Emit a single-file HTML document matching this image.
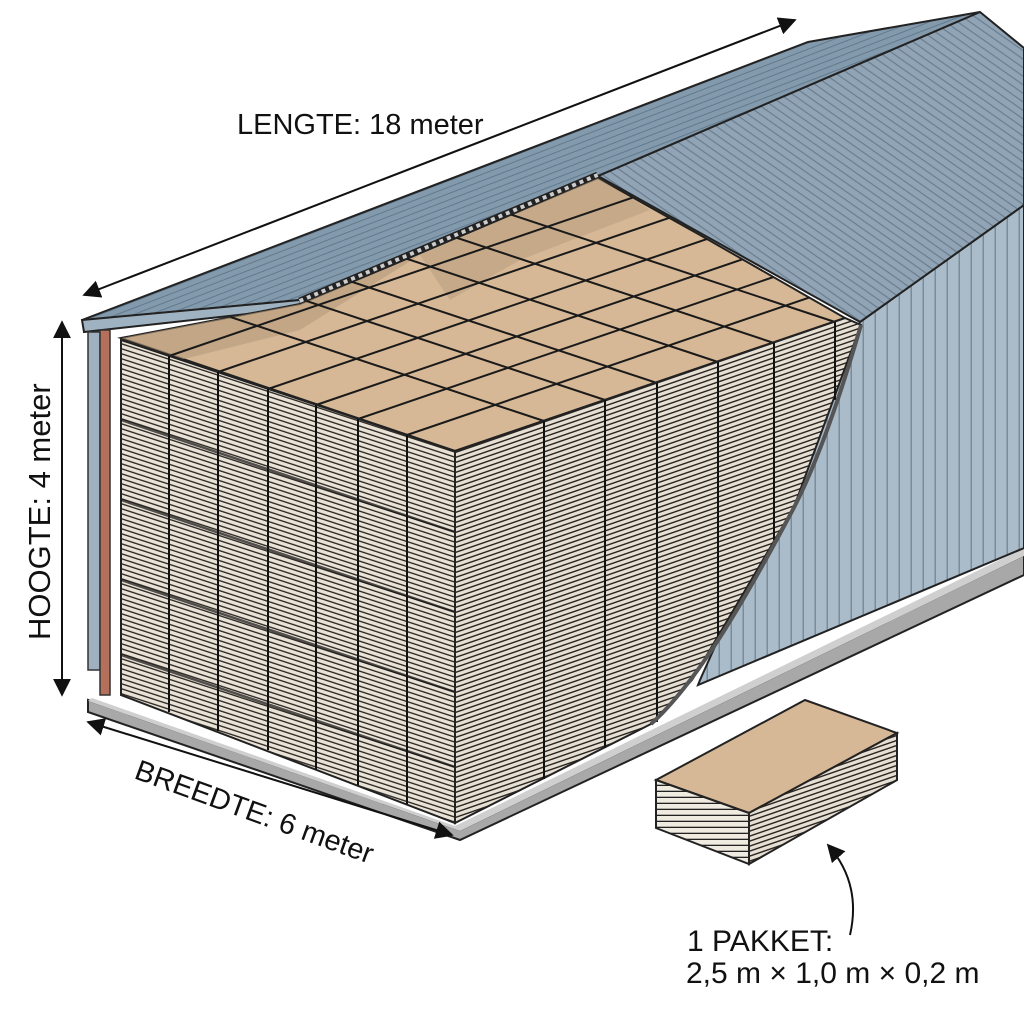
<!DOCTYPE html>
<html><head><meta charset="utf-8"><style>
html,body{margin:0;padding:0;background:#fff;}
svg{display:block;font-family:"Liberation Sans",sans-serif;}
</style></head><body>
<svg width="1024" height="1024" viewBox="0 0 1024 1024" xmlns="http://www.w3.org/2000/svg">
<defs>
<pattern id="hf" width="8" height="5" patternUnits="userSpaceOnUse" patternTransform="skewY(18)">
<rect width="8" height="5" fill="#e9e2d6"/><rect y="3.6" width="8" height="1.4" fill="#2b2622"/></pattern>
<pattern id="hr" width="8" height="5" patternUnits="userSpaceOnUse" patternTransform="skewY(-19)">
<rect width="8" height="5" fill="#e6dfd3"/><rect y="3.5" width="8" height="1.5" fill="#2b2622"/></pattern>
<pattern id="roofL" width="6" height="6" patternUnits="userSpaceOnUse" patternTransform="rotate(-21)">
<rect width="6" height="6" fill="#8399ac"/><rect y="5" width="6" height="1" fill="#627a8d"/></pattern>
<pattern id="roofR" width="7" height="7" patternUnits="userSpaceOnUse" patternTransform="rotate(-55)">
<rect width="7" height="7" fill="#90a4b5"/><rect x="5.8" width="1.2" height="7" fill="#6a7d8e"/></pattern>
<pattern id="wall" width="12" height="12" patternUnits="userSpaceOnUse">
<rect width="12" height="12" fill="#aabbc9"/><rect x="10.5" width="1.5" height="12" fill="#7a8c9b"/></pattern>
<pattern id="pk" width="8" height="6" patternUnits="userSpaceOnUse">
<rect width="8" height="6" fill="#f0ebe0"/><rect y="4.7" width="8" height="1.3" fill="#222"/></pattern>
<clipPath id="topc"><polygon points="121,338 300,304 598,178 700,235 845,318 455,451"/></clipPath>
<marker id="ar" viewBox="0 0 10 10" refX="9" refY="5" markerWidth="9" markerHeight="9" orient="auto-start-reverse">
<path d="M0,0 L10,5 L0,10 z" fill="#111"/></marker>
</defs>

<!-- floor slab -->
<polygon points="88,700 460,830 1024,555 1024,575 460,840 88,712" fill="#a8a8a8" stroke="#222" stroke-width="2"/>
<polygon points="92,698 455,826 1024,548 1024,556 460,831 88,701" fill="#cfcfcf"/>
<!-- right wall -->
<polygon points="860,322 1024,205 1024,548 698,685 700,680" fill="url(#wall)" stroke="#222" stroke-width="2"/>
<!-- right roof slope -->
<polygon points="598,176 980,12 1024,48 1024,205 860,322" fill="url(#roofR)" stroke="#222" stroke-width="2"/>
<!-- left roof slope -->
<polygon points="82,320 808,42 980,12 598,176 300,300 86,320" fill="url(#roofL)" stroke="#222" stroke-width="2"/>
<polygon points="82,320 300,300 302,308 84,332" fill="#9fb2c1" stroke="#222" stroke-width="2"/>
<!-- insulation strip -->
<polyline points="300,302 598,176" stroke="#222" stroke-width="9" fill="none"/>
<polyline points="300,302 598,176" stroke="#ccc" stroke-width="6" stroke-dasharray="4 4" fill="none"/>
<!-- left wall posts -->
<rect x="88" y="332" width="12" height="338" fill="#9fb0bf" stroke="#333" stroke-width="1.5"/>
<rect x="100" y="330" width="10" height="365" fill="#b5705c" stroke="#333" stroke-width="1.5"/>

<!-- stack top -->
<polygon points="121,338 300,304 598,178 700,235 845,318 455,451" fill="#d6b896" stroke="#222" stroke-width="2"/>
<g clip-path="url(#topc)">
<polygon points="121,338 300,304 420,255 300,330 180,360" fill="#b49a7c" opacity="0.6"/>
<polygon points="420,255 598,178 650,210 520,260 450,300" fill="#b49a7c" opacity="0.5"/>
<g stroke="#1a1a1a" stroke-width="2" fill="none">
<line x1="169" y1="356" x2="769" y2="151"/>
<line x1="218" y1="372" x2="818" y2="167"/>
<line x1="268" y1="389" x2="868" y2="184"/>
<line x1="316" y1="405" x2="916" y2="200"/>
<line x1="358" y1="419" x2="958" y2="214"/>
<line x1="407" y1="435" x2="1007" y2="230"/>
<line x1="544" y1="421" x2="-56" y2="222"/>
<line x1="605" y1="400" x2="5" y2="201"/>
<line x1="657" y1="383" x2="57" y2="184"/>
<line x1="718" y1="362" x2="118" y2="163"/>
<line x1="774" y1="343" x2="174" y2="144"/>
<line x1="835" y1="322" x2="235" y2="123"/>
</g></g>
<!-- front face -->
<polygon points="121,340 455,451 455,823 121,695" fill="url(#hf)" stroke="#222" stroke-width="2"/>
<g stroke="#111" stroke-width="2">
<line x1="169" y1="356" x2="169" y2="712"/><line x1="218" y1="372" x2="218" y2="731"/>
<line x1="268" y1="389" x2="268" y2="750"/><line x1="316" y1="405" x2="316" y2="769"/>
<line x1="358" y1="419" x2="358" y2="785"/><line x1="407" y1="435" x2="407" y2="804"/>
</g>
<g stroke="#111" stroke-width="2.5" opacity="0.7">
<line x1="121" y1="420" x2="455" y2="532"/><line x1="121" y1="500" x2="455" y2="612"/>
<line x1="121" y1="580" x2="455" y2="692"/><line x1="121" y1="655" x2="455" y2="767"/>
</g>
<!-- right face -->
<polygon points="455,451 845,318 861,325 845,368 794,507 743,594 692,680 651,724 455,823" fill="url(#hr)" stroke="#222" stroke-width="2"/>
<g stroke="#111" stroke-width="2">
<line x1="544" y1="421" x2="544" y2="779"/><line x1="605" y1="400" x2="605" y2="748"/>
<line x1="657" y1="383" x2="657" y2="722"/><line x1="718" y1="362" x2="718" y2="640"/>
<line x1="774" y1="343" x2="774" y2="540"/><line x1="835" y1="322" x2="835" y2="400"/>
</g>
<path d="M861,325 C845,380 820,460 790,515 C750,590 700,680 651,724" stroke="#555" stroke-width="4" fill="none"/>

<!-- package -->
<polygon points="656,780 805,700 897,733 749,813" fill="#d6b896" stroke="#222" stroke-width="2"/>
<polygon points="656,780 749,813 749,864 656,828" fill="url(#pk)" stroke="#222" stroke-width="2"/>
<polygon points="749,813 897,733 897,780 749,864" fill="url(#hr)" stroke="#222" stroke-width="2"/>

<!-- dimension arrows -->
<line x1="84" y1="295" x2="795" y2="20" stroke="#111" stroke-width="2" marker-start="url(#ar)" marker-end="url(#ar)"/>
<line x1="62" y1="322" x2="62" y2="695" stroke="#111" stroke-width="2" marker-start="url(#ar)" marker-end="url(#ar)"/>
<line x1="88" y1="722" x2="452" y2="835" stroke="#111" stroke-width="2" marker-start="url(#ar)" marker-end="url(#ar)"/>
<path d="M850,935 C858,900 850,870 828,845" stroke="#111" stroke-width="2" fill="none" marker-end="url(#ar)"/>

<text x="237" y="134" font-size="29" fill="#111">LENGTE: 18 meter</text>
<text transform="translate(50,640) rotate(-90)" font-size="31" fill="#111">HOOGTE: 4 meter</text>
<text transform="translate(133,778) rotate(20)" font-size="29" fill="#111">BREEDTE: 6 meter</text>
<text x="687" y="951" font-size="30" fill="#111">1 PAKKET:</text>
<text x="686" y="983" font-size="30" fill="#111">2,5 m × 1,0 m × 0,2 m</text>
</svg>
</body></html>
